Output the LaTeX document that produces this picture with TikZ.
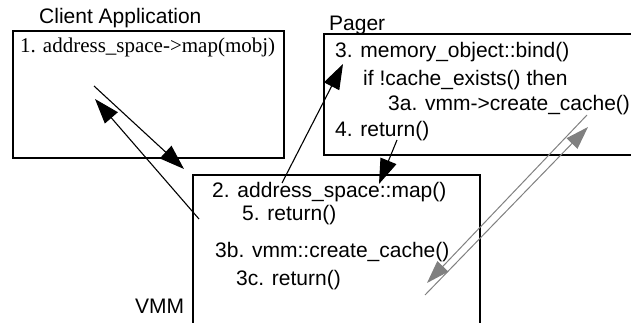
\documentclass[tikz,border=0pt]{standalone}
\usepackage{fontspec}
\setmainfont{Liberation Sans}
\newfontfamily\timesfont{Liberation Serif}
\usepackage{tikz}
\usetikzlibrary{arrows.meta}

\begin{document}
\begin{tikzpicture}[x=1pt,y=-1pt,
  box/.style={line width=1.3pt},
  lbl/.style={anchor=base west,inner sep=0pt,font=\fontsize{21}{25}\selectfont},
  call/.style={line width=1.1pt,-{Triangle[length=25pt,width=17pt]}},
  gcall/.style={line width=1pt,draw=gray,-{Triangle[length=23pt,width=15pt]},gray}]
\clip (0,0) rectangle (631,323);
%\draw[step=50,red,thin] (0,0) grid (631,323);

% boxes
\draw[box] (13,31) rectangle (284,158);
\draw[box] (324,34) rectangle (650,155);
\draw[box] (193,175) rectangle (480,340);

% titles
\node[lbl] (clientlbl) at (39,24) {Client Application};
\node[lbl] (pagerlbl) at (329,31) {Pager};
\node[lbl] (vmmlbl) at (135,313) {VMM};

% client
\node[lbl,font=\timesfont\fontsize{21}{25}\selectfont] (step1) at (20,53) {1. address\_space->map(mobj)};

% pager
\node[lbl] (step3) at (335,58) {3. memory\_object::bind()};
\node[lbl] (ifcache) at (363,86) {if !cache\_exists() then};
\node[lbl] (step3a) at (388,111) {3a. vmm->create\_cache()};
\node[lbl] (step4) at (335,137) {4. return()};

% vmm
\node[lbl] (step2) at (212,197) {2. address\_space::map()};
\node[lbl] (step5) at (242,220) {5. return()};
\node[lbl] (step3b) at (215,257) {3b. vmm::create\_cache()};
\node[lbl] (step3c) at (236,285) {3c. return()};

% arrow ends
\coordinate (c1s) at (94,86);
\coordinate (c1e) at (184,169);
\coordinate (r5s) at (199,219);
\coordinate (r5e) at (95,99);
\coordinate (b3s) at (282,183);
\coordinate (b3e) at (343,64);
\coordinate (r4s) at (397,140);
\coordinate (r4e) at (379,184);
\coordinate (g3as) at (587,115);
\coordinate (g3ae) at (427,283);
\coordinate (g3cs) at (425,295);
\coordinate (g3ce) at (588,127);

\draw[call] (c1s) -- (c1e);
\draw[call] (r5s) -- (r5e);
\draw[call] (b3s) -- (b3e);
\draw[call] (r4s) -- (r4e);
\draw[gcall] (g3as) -- (g3ae);
\draw[gcall] (g3cs) -- (g3ce);

\end{tikzpicture}
\end{document}
